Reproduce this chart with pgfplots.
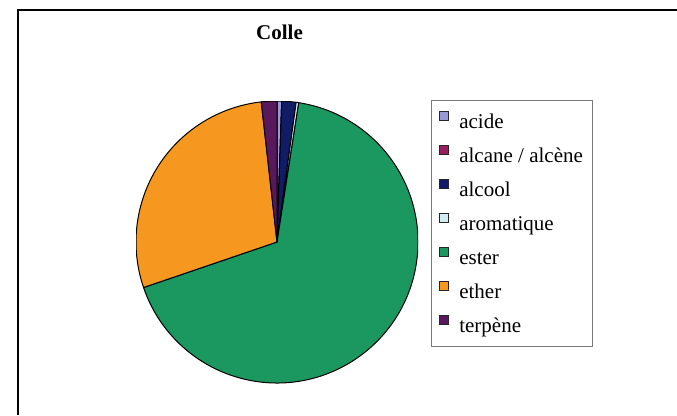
\documentclass[border=0pt]{standalone}
\usepackage{fontspec}
\setmainfont{Liberation Serif}
\usepackage{pgfplots}
\usepackage{pgfplotstable}
\pgfplotsset{compat=1.18}
\definecolor{c0}{RGB}{153,153,214}
\definecolor{c1}{RGB}{153,30,95}
\definecolor{c2}{RGB}{18,28,102}
\definecolor{c3}{RGB}{208,238,242}
\definecolor{c4}{RGB}{26,152,96}
\definecolor{c5}{RGB}{246,152,32}
\definecolor{c6}{RGB}{88,24,92}
\definecolor{legframe}{RGB}{120,120,120}
\pgfplotstableread{
name value
acide 0.54
alcane 0.0
alcool 1.63
aromatique 0.3
ester 67.3
ether 28.45
terpene 1.78
}\datatable
\begin{document}
\begin{tikzpicture}[x=1pt,y=1pt]
\useasboundingbox (0,0) rectangle (507.75,311.25);
\fill[white] (0,0) rectangle (507.75,311.25);
\draw[line width=1.5pt] (13.5,0) -- (13.5,303.75) -- (507.75,303.75);
\begin{axis}[
  scale only axis, width=211.5pt, height=211.5pt,
  xmin=-1, xmax=1, ymin=-1, ymax=1,
  hide axis,
  at={(102pt,24pt)}, anchor=south west,
  title={Colle},
  title style={at={(0.509,1.191)}, anchor=base, font=\fontsize{15.75}{18}\selectfont\bfseries, inner sep=0pt},
  legend style={at={(1.046,1.004)}, anchor=north west,
    draw=legframe, line width=0.9pt,
    font=\fontsize{15.75}{18}\selectfont,
    inner xsep=5.25pt, inner ysep=7pt,
    row sep=8pt, column sep=6pt,
    cells={anchor=west, inner sep=0pt, text height=12pt, text depth=4pt}},
  legend cell align=left,
  legend image code/.code={\draw[#1, draw=black!85, line width=0.75pt] (0pt,0.9pt) rectangle (6.8pt,7.7pt);},
]
\pgfplotsextra{
  \gdef\cum{0}
  \foreach \i in {0,...,6} {
    \pgfplotstablegetelem{\i}{value}\of\datatable
    \let\v\pgfplotsretval
    \pgfmathsetmacro\a{90-3.6*\cum}
    \pgfmathsetmacro\b{90-3.6*(\cum+\v)}
    \filldraw[fill=c\i, draw=black, line width=0.75pt, line join=round]
      (axis cs:0,0) -- ++(\a:105.75pt) arc[start angle=\a, end angle=\b, radius=105.75pt] -- cycle;
    \pgfmathsetmacro\newcum{\cum+\v}
    \global\let\cum\newcum
  }
}
\addlegendimage{fill=c0}\addlegendentry{acide}
\addlegendimage{fill=c1}\addlegendentry{alcane / alcène}
\addlegendimage{fill=c2}\addlegendentry{alcool}
\addlegendimage{fill=c3}\addlegendentry{aromatique}
\addlegendimage{fill=c4}\addlegendentry{ester}
\addlegendimage{fill=c5}\addlegendentry{ether}
\addlegendimage{fill=c6}\addlegendentry{terpène}
\end{axis}
\end{tikzpicture}
\end{document}
